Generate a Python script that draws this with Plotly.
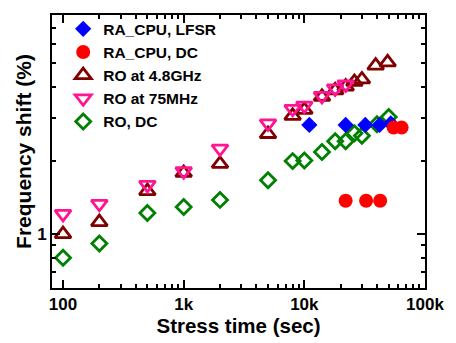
import plotly.graph_objects as go
import numpy as np

# RA_CPU, LFSR
lfsr_t = [11000, 22000, 32000, 42000, 52000]
lfsr_v = [2.80, 2.80, 2.80, 2.80, 2.84]
# RA_CPU, DC
radc_t = [22000, 32500, 42500, 55000, 64000]
radc_v = [1.37, 1.37, 1.37, 2.73, 2.73]
# RO at 4.8GHz
ro48_t = [100, 200, 500, 1000, 2000, 5000, 8000, 10000, 14000, 18000, 22000, 26000, 30000, 39000, 49000]
ro48_v = [1.00, 1.12, 1.50, 1.78, 1.94, 2.57, 3.05, 3.23, 3.65, 3.88, 4.02, 4.20, 4.30, 4.90, 5.05]
# RO at 75MHz
ro75_t = [100, 200, 500, 1000, 2000, 5000, 8000, 10000, 14000, 18000, 22000]
ro75_v = [1.21, 1.33, 1.59, 1.81, 2.24, 2.84, 3.26, 3.36, 3.68, 3.95, 4.10]
# RO, DC
rodc_t = [100, 200, 500, 1000, 2000, 5000, 8000, 10000, 14000, 18000, 22000, 26000, 30000, 40000, 50000]
rodc_v = [0.80, 0.915, 1.22, 1.29, 1.38, 1.66, 1.99, 2.00, 2.17, 2.40, 2.40, 2.59, 2.53, 2.82, 3.02]

x_major = [100, 1000, 10000, 100000]
x_labels = ["100", "1k", "10k", "100k"]
x_minor = [m * d for d in (100, 1000, 10000) for m in range(2, 10)]
y_major = [1]
y_labels = ["1"]
y_minor = [0.6, 0.7, 0.8, 0.9, 2, 3, 4, 5, 6, 7]

fig = go.Figure()
fig.add_trace(go.Scatter(x=ro48_t, y=ro48_v, mode="markers", name="RO at 4.8GHz", legendrank=3,
                         marker=dict(symbol="triangle-up-open", size=14, color="#800000", line=dict(width=2.8, color="#800000"))))
fig.add_trace(go.Scatter(x=ro75_t, y=ro75_v, mode="markers", name="RO at 75MHz", legendrank=4,
                         marker=dict(symbol="triangle-down-open", size=14, color="#FF1493", line=dict(width=2.8, color="#FF1493"))))
fig.add_trace(go.Scatter(x=rodc_t, y=rodc_v, mode="markers", name="RO, DC", legendrank=5,
                         marker=dict(symbol="diamond-open", size=11.5, color="#008000", line=dict(width=2.8, color="#008000"))))
fig.add_trace(go.Scatter(x=lfsr_t, y=lfsr_v, mode="markers", name="RA_CPU, LFSR", legendrank=1,
                         marker=dict(symbol="diamond", size=12.5, color="#0000FF", line=dict(width=0))))
fig.add_trace(go.Scatter(x=radc_t, y=radc_v, mode="markers", name="RA_CPU, DC", legendrank=2,
                         marker=dict(symbol="circle", size=14, color="#FF0000", line=dict(width=0))))

axis_common = dict(showline=True, linecolor="black", linewidth=2, mirror="allticks",
                   ticks="inside", tickcolor="black", tickwidth=2, ticklen=8,
                   showgrid=False, zeroline=False)

fig.update_layout(
    width=456, height=343,
    margin=dict(l=52, r=23, t=13, b=50),
    paper_bgcolor="white", plot_bgcolor="white",
    font=dict(family="Liberation Sans, Arial", color="black", weight="bold"),
    showlegend=True,
    legend=dict(x=0.03, y=1.01, xanchor="left", yanchor="top", bgcolor="rgba(0,0,0,0)",
                font=dict(size=15.5, family="Liberation Sans, Arial", weight="bold"),
                itemsizing="trace", tracegroupgap=0),
    xaxis=dict(type="log", range=[np.log10(81), 5.0], tickvals=x_major, ticktext=x_labels,
               tickfont=dict(size=17), title=dict(text="Stress time (sec)", font=dict(size=20.5), standoff=2),
               minor=dict(tickvals=x_minor, ticks="inside", ticklen=4, tickwidth=1.5, tickcolor="black"),
               **axis_common),
    yaxis=dict(type="log", range=[np.log10(0.601), np.log10(7.9)], tickvals=y_major, ticktext=y_labels,
               tickfont=dict(size=17), title=dict(text="Frequency shift (%)", font=dict(size=21), standoff=0),
               minor=dict(tickvals=y_minor, ticks="inside", ticklen=4, tickwidth=1.5, tickcolor="black"),
               **axis_common),
)

fig.write_html("out.html")
